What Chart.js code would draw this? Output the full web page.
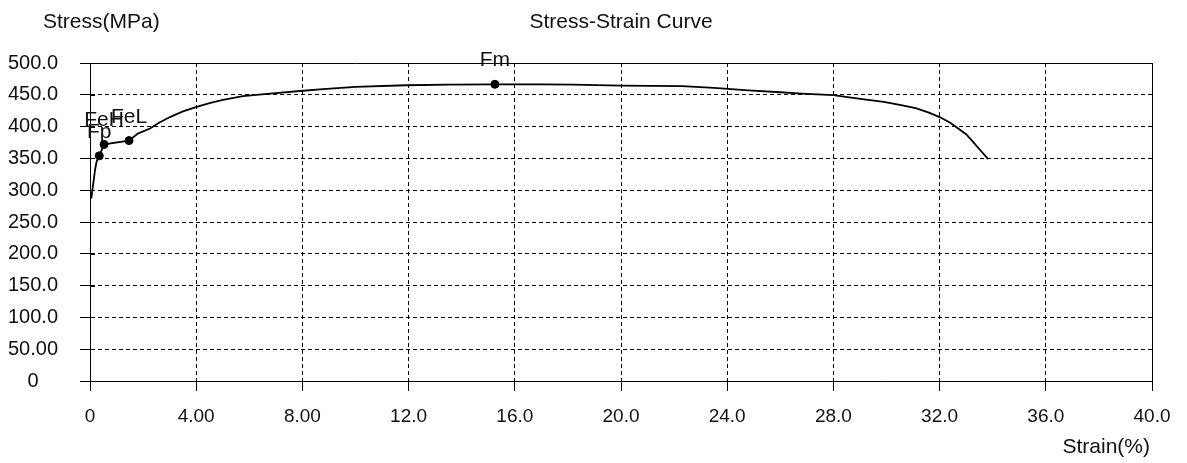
<!DOCTYPE html>
<html>
<head>
<meta charset="utf-8">
<script src="https://cdn.jsdelivr.net/npm/chart.js@4/dist/chart.umd.min.js"></script>
<style>
	html, body { margin: 0; padding: 0; background: #fff; }
	#wrap { position: relative; width: 1187px; height: 463px; }
</style>
</head>
<body>
<div id="wrap"><canvas id="ssChart"></canvas></div>
<script>
// measured curve (strain %, stress MPa)
const strain = [0.05, 0.09, 0.14, 0.19, 0.25, 0.35, 0.53, 1.47, 1.80, 2.26, 2.60, 3.01, 3.50, 4.02, 4.50, 5.01, 5.76, 6.78, 7.91, 8.78, 10.0, 11.9, 13.5, 15.25, 17.0, 18.2, 20.0, 22.3, 23.5, 24.8, 26.0, 26.8, 28.0, 28.6, 29.3, 29.9, 30.5, 31.1, 31.6, 32.0, 32.4, 32.7, 33.0, 33.26, 33.55, 33.83];
const stress = [287, 300, 316, 332, 345, 354, 372, 378, 389, 397, 406, 415, 424, 431, 437, 442, 448, 452, 456, 459, 462.5, 465, 466, 466.5, 466.5, 466, 464.5, 463.5, 461, 457, 454, 452, 449.5, 446, 442, 439, 434, 429, 422, 415, 406, 397, 388, 376, 362, 349];

// characteristic points
const markNames = ['Fp', 'FeH', 'FeL', 'Fm'];
const markStrain = [0.35, 0.53, 1.47, 15.25];
const markStress = [354, 372, 378, 466.5];

const xTickLabels = ['0', '4.00', '8.00', '12.0', '16.0', '20.0', '24.0', '28.0', '32.0', '36.0', '40.0'];
const yTickLabels = ['0', '50.00', '100.0', '150.0', '200.0', '250.0', '300.0', '350.0', '400.0', '450.0', '500.0'];

const FONT = '"Liberation Sans", Arial, sans-serif';

const textPlugin = {
	id: 'ssText',
	afterDraw(chart) {
		const ctx = chart.ctx;
		const area = chart.chartArea;
		const xs = chart.scales.x;
		const ys = chart.scales.y;
		ctx.save();

		// plot frame
		ctx.strokeStyle = '#000';
		ctx.lineWidth = 1;
		ctx.beginPath();
		ctx.moveTo(area.left, area.top + 0.5);
		ctx.lineTo(area.right + 0.5, area.top + 0.5);
		ctx.lineTo(area.right + 0.5, area.bottom);
		ctx.stroke();

		// short inner stubs on the y ticks
		ctx.beginPath();
		ys.ticks.forEach((t) => {
			const py = Math.round(ys.getPixelForValue(t.value)) + 0.5;
			ctx.moveTo(area.left, py);
			ctx.lineTo(area.left + 5, py);
		});
		ctx.stroke();

		ctx.fillStyle = '#111';
		ctx.font = '21px ' + FONT;
		ctx.textBaseline = 'middle';

		ctx.textAlign = 'center';
		ctx.fillText('Stress-Strain Curve', (area.left + area.right) / 2, 22);

		ctx.textAlign = 'left';
		ctx.fillText('Stress(MPa)', 43, 22);

		ctx.textAlign = 'right';
		ctx.fillText('Strain(%)', area.right - 2, 447);

		// point names
		ctx.textAlign = 'center';
		ctx.textBaseline = 'alphabetic';
		for (let i = 0; i < markNames.length; i++) {
			const px = xs.getPixelForValue(markStrain[i]);
			const py = ys.getPixelForValue(markStress[i]);
			ctx.fillText(markNames[i], px, py - 18);
		}
		ctx.restore();
	}
};

new Chart(document.getElementById('ssChart'), {
	type: 'scatter',
	data: {
		datasets: [
			{
				label: 'curve',
				data: strain.map((s, i) => ({ x: s, y: stress[i] })),
				showLine: true,
				borderColor: '#000',
				borderWidth: 1.8,
				pointRadius: 0,
				tension: 0
			},
			{
				label: 'marks',
				data: markStrain.map((s, i) => ({ x: s, y: markStress[i] })),
				showLine: false,
				pointRadius: 4,
				backgroundColor: '#000',
				borderColor: '#000',
				borderWidth: 1
			}
		]
	},
	options: {
		responsive: true,
		maintainAspectRatio: false,
		animation: false,
		events: [],
		layout: { padding: { left: 0, top: 63, right: 35, bottom: 0 } },
		plugins: {
			legend: { display: false },
			tooltip: { enabled: false }
		},
		scales: {
			x: {
				type: 'linear',
				min: 0,
				max: 40,
				afterFit: (scale) => { scale.height = 82; },
				grid: {
					color: '#000',
					lineWidth: 1,
					tickLength: 10,
					tickColor: '#000'
				},
				border: { display: true, color: '#000', width: 1, dash: [4, 3] },
				ticks: {
					stepSize: 4,
					padding: 14,
					color: '#111',
					font: { family: FONT, size: 19 },
					maxRotation: 0,
					autoSkip: false,
					callback: (v, i) => xTickLabels[i]
				}
			},
			y: {
				type: 'linear',
				min: 0,
				max: 500,
				afterFit: (scale) => { scale.width = 90; },
				grid: {
					color: '#000',
					lineWidth: 1,
					tickLength: 10,
					tickColor: '#000'
				},
				border: { display: true, color: '#000', width: 1, dash: [4, 3] },
				ticks: {
					stepSize: 50,
					padding: 22,
					crossAlign: 'center',
					color: '#111',
					font: { family: FONT, size: 20 },
					autoSkip: false,
					callback: (v, i) => yTickLabels[i]
				}
			}
		}
	},
	plugins: [textPlugin]
});
</script>
</body>
</html>
